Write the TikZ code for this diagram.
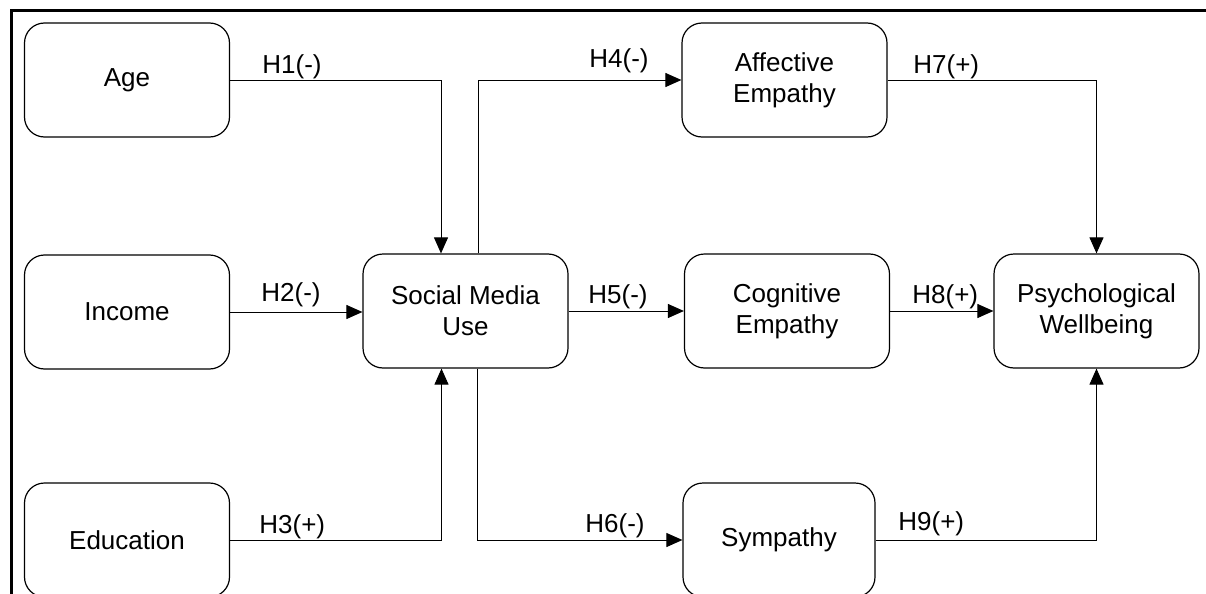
\documentclass[tikz,border=0pt]{standalone}
\usepackage{fontspec}
\setmainfont{Liberation Sans}
\usetikzlibrary{arrows.meta,calc}
\begin{document}
\begin{tikzpicture}[x=0.5pt,y=-0.5pt,
  box/.style={draw,line width=0.6pt,rounded corners=10pt,minimum width=102.5pt,minimum height=57pt,align=center,inner sep=0pt,font=\fontsize{13}{15.5}\selectfont},
  arr/.style={line width=0.5pt,-{Triangle[length=8pt,width=7pt]}},
  lbl/.style={anchor=base west,inner sep=0pt,font=\fontsize{13}{15.5}\selectfont},
  frame/.style={line width=1.5pt}]
\clip (0,0) rectangle (1206,594);
\draw[frame] (11,10) rectangle (1240,640);

\node[box] (age) at (127,80) {Age};
\node[box] (income) at (127,312) {Income};
\node[box] (edu) at (127,540) {Education};
\node[box] (smu) at (465.5,311) {Social Media\\Use};
\node[box] (aff) at (784.5,80) {Affective\\Empathy};
\node[box] (cog) at (787,311) {Cognitive\\Empathy};
\node[box,minimum width=96pt] (sym) at (779,540) {Sympathy};
\node[box] (psy) at (1096.5,311) {Psychological\\Wellbeing};

\draw[arr] (age.east) -| ($(smu.north)+(-24.5,0)$);
\draw[arr] (income.east) -- (income.east -| smu.west);
\draw[arr] (edu.east) -| ($(smu.south)+(-24,0)$);
\draw[arr] ($(smu.north)+(12.5,0)$) |- (aff.west);
\draw[arr] (smu.east) -- (cog.west);
\draw[arr] ($(smu.south)+(11.5,0)$) |- (sym.west);
\draw[arr] (aff.east) -| (psy.north);
\draw[arr] (cog.east) -- (psy.west);
\draw[arr] (sym.east) -| (psy.south);

\node[lbl] (h1) at (262,73) {H1(-)};
\node[lbl] (h2) at (261,301) {H2(-)};
\node[lbl] (h3) at (259,533) {H3(+)};
\node[lbl] (h4) at (589,68) {H4(-)};
\node[lbl] (h5) at (588,303) {H5(-)};
\node[lbl] (h6) at (585,532) {H6(-)};
\node[lbl] (h7) at (913,73) {H7(+)};
\node[lbl] (h8) at (912,303) {H8(+)};
\node[lbl] (h9) at (898,530) {H9(+)};
\end{tikzpicture}
\end{document}
